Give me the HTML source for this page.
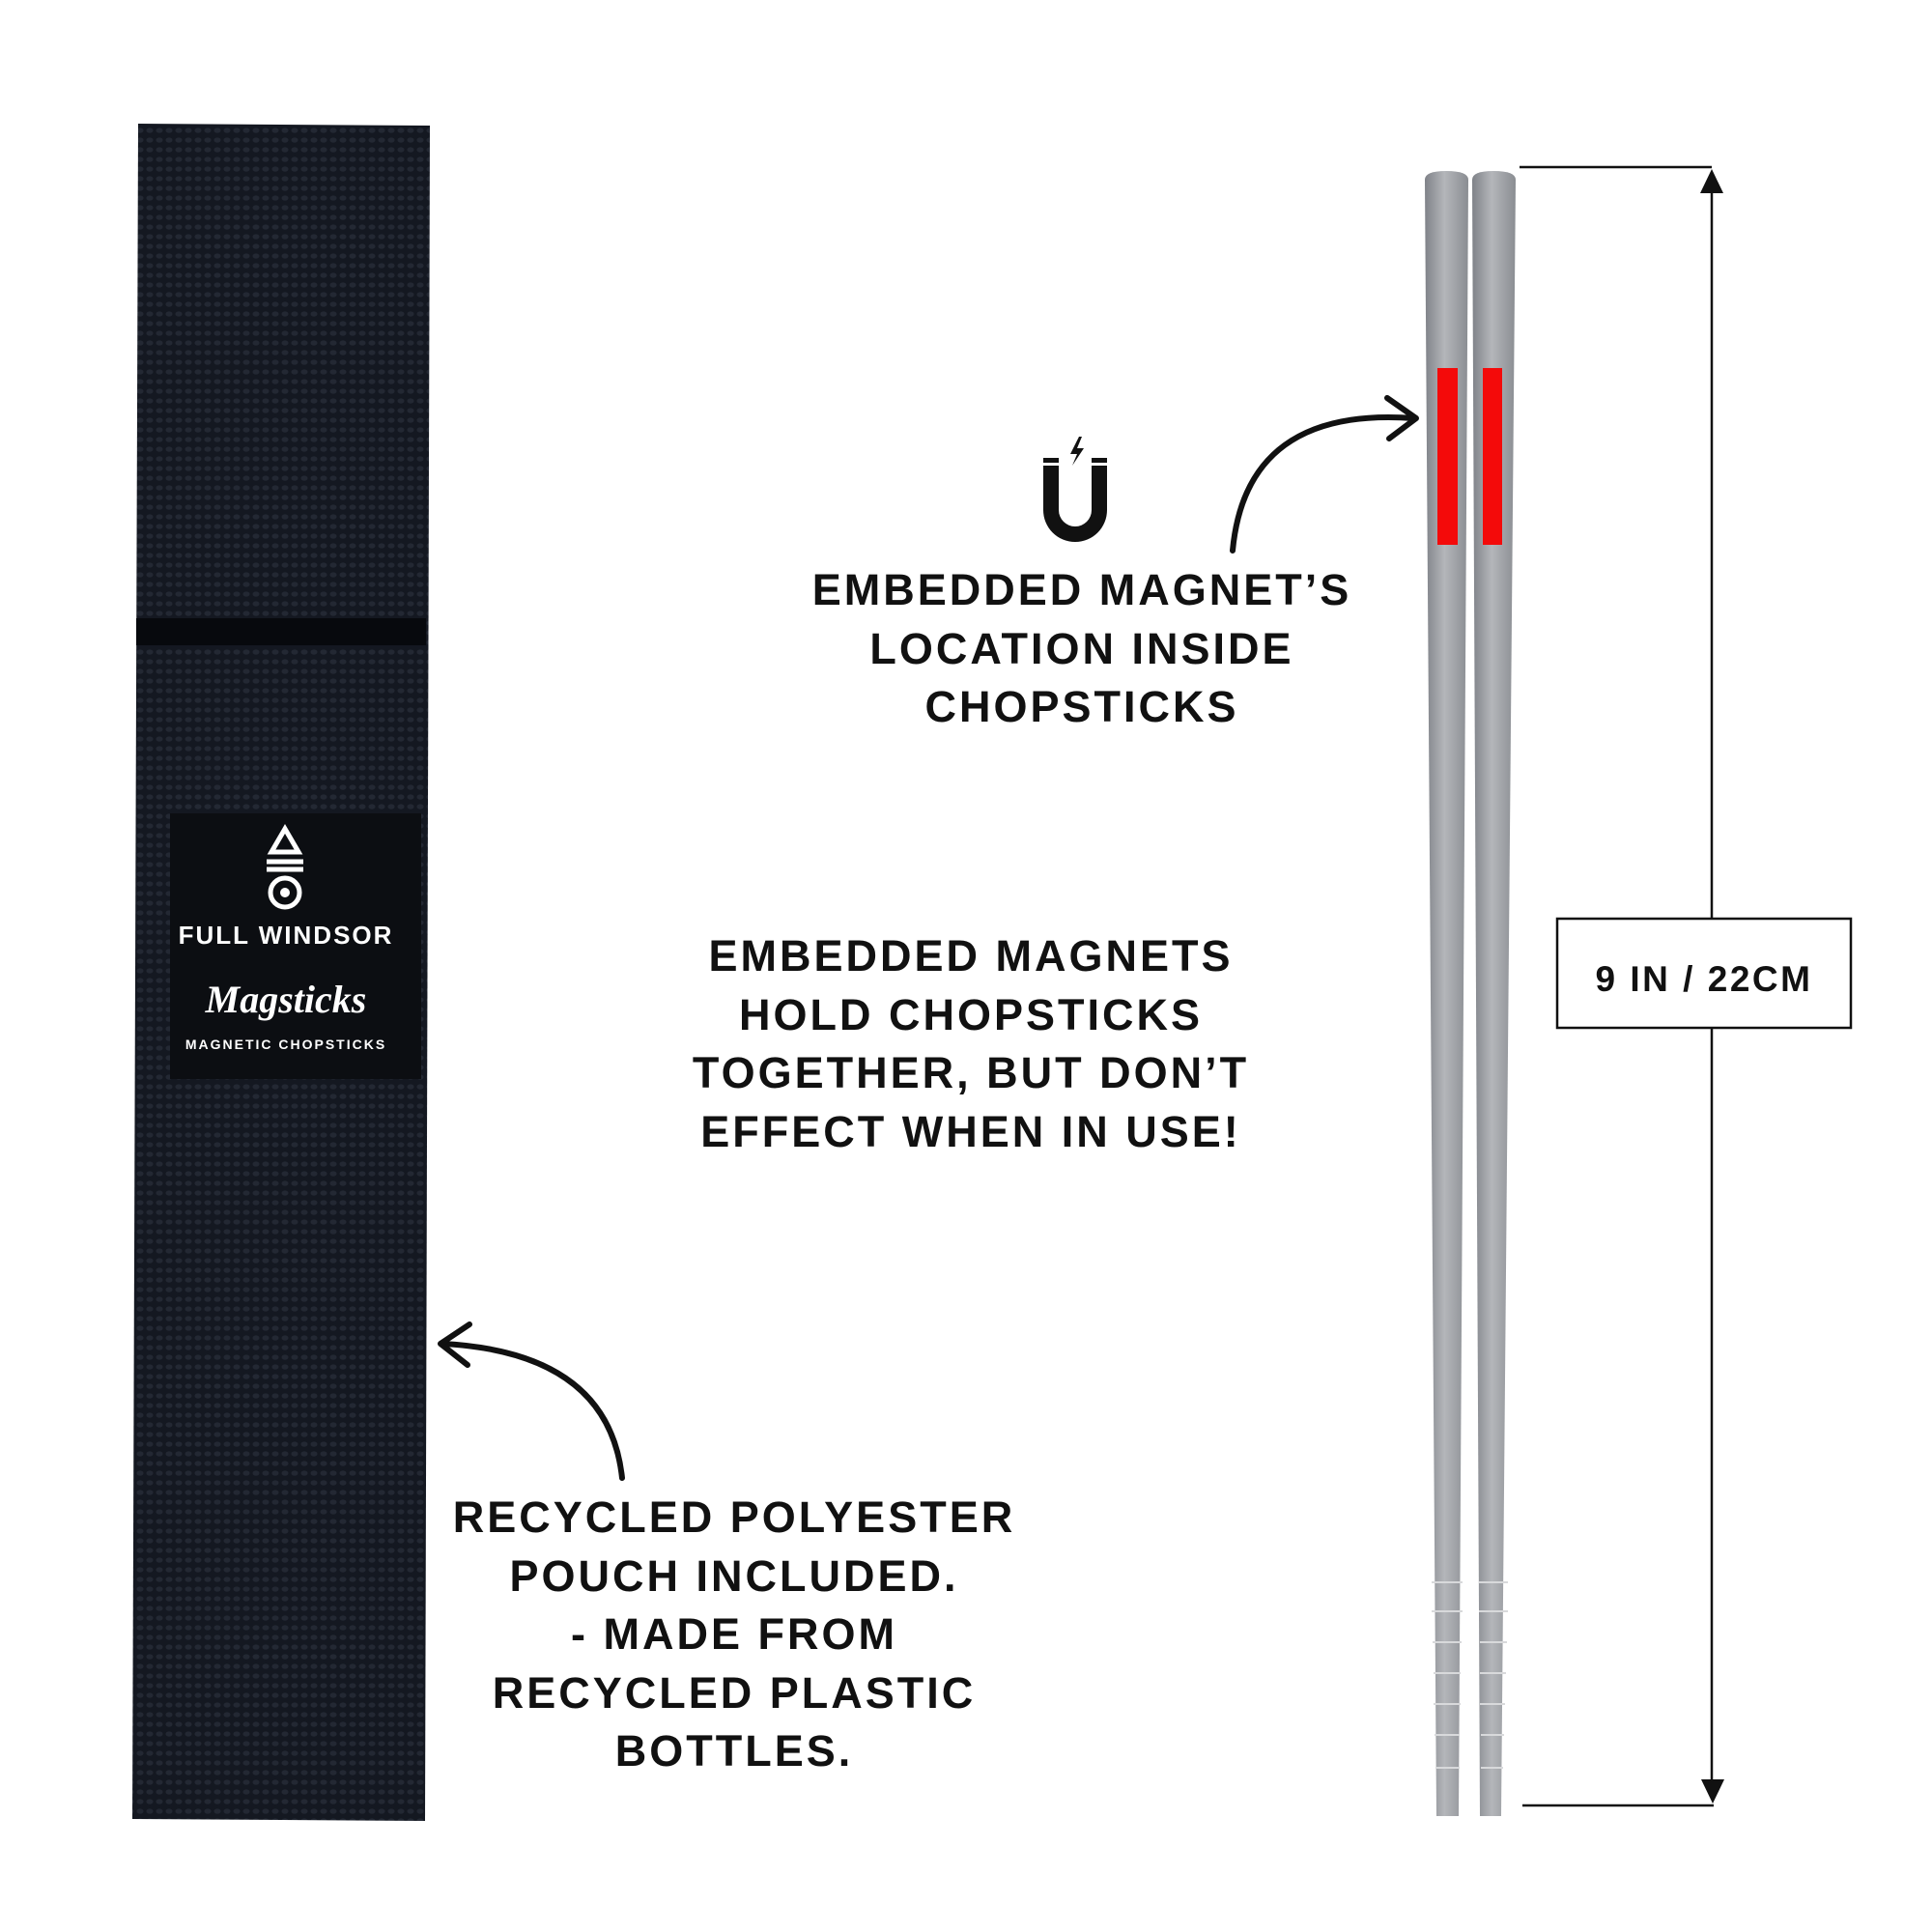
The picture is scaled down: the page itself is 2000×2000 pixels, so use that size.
<!DOCTYPE html>
<html><head><meta charset="utf-8"><style>
body{margin:0;width:2000px;height:2000px;background:#fff;position:relative;overflow:hidden;font-family:"Liberation Sans",sans-serif}
.t{position:absolute;font-weight:bold;color:#111;text-align:center;letter-spacing:3px;font-size:45px;line-height:60.5px}
</style></head><body>
<svg width="2000" height="2000" style="position:absolute;left:0;top:0">
<defs>
<pattern id="weave" width="10" height="10" patternUnits="userSpaceOnUse">
<rect width="10" height="10" fill="#141821"/>
<ellipse cx="5" cy="5" rx="3.5" ry="2.6" fill="#232833"/>
</pattern>
<linearGradient id="st" x1="0" x2="1"><stop offset="0" stop-color="#7f8288"/><stop offset=".45" stop-color="#b4b6ba"/><stop offset="1" stop-color="#8a8d92"/></linearGradient>
</defs>
<path d="M143 128 L445 130 L440 1885 L137 1883 Z" fill="url(#weave)"/>
<rect x="141" y="640" width="300" height="28" fill="#07090d"/>
<rect x="176" y="842" width="260" height="275" fill="#0c0e12"/>
<g fill="none" stroke="#fff" stroke-width="5">
<polygon points="295,858 281,882 309,882"/>
<line x1="276" y1="892" x2="314" y2="892"/><line x1="276" y1="900" x2="314" y2="900"/>
<circle cx="295" cy="924" r="15"/>
</g>
<circle cx="295" cy="924" r="5" fill="#fff"/>
<text x="296" y="977" fill="#fff" font-family="Liberation Sans" font-weight="bold" font-size="26" text-anchor="middle" letter-spacing="2">FULL WINDSOR</text>
<text x="296" y="1048" fill="#fff" font-family="Liberation Serif" font-style="italic" font-weight="bold" font-size="40" text-anchor="middle">Magsticks</text>
<text x="296" y="1086" fill="#fff" font-family="Liberation Sans" font-weight="bold" font-size="14" text-anchor="middle" letter-spacing="2">MAGNETIC CHOPSTICKS</text>
<g transform="translate(-8,0)">
<path d="M1483 186 Q1483 177 1505 177 Q1528 177 1528 186 L1518 1880 L1495 1880 Z" fill="url(#st)"/>
<path d="M1532 186 Q1532 177 1554 177 Q1577 177 1577 186 L1562 1880 L1540 1880 Z" fill="url(#st)"/>
<g stroke="#d8d9db" stroke-width="2">
<line x1="1490" y1="1638" x2="1522" y2="1638"/><line x1="1490" y1="1668" x2="1522" y2="1668"/><line x1="1491" y1="1700" x2="1521" y2="1700"/><line x1="1492" y1="1732" x2="1520" y2="1732"/><line x1="1492" y1="1764" x2="1520" y2="1764"/><line x1="1493" y1="1796" x2="1519" y2="1796"/><line x1="1494" y1="1830" x2="1519" y2="1830"/>
<line x1="1539" y1="1638" x2="1569" y2="1638"/><line x1="1539" y1="1668" x2="1569" y2="1668"/><line x1="1540" y1="1700" x2="1568" y2="1700"/><line x1="1540" y1="1732" x2="1567" y2="1732"/><line x1="1540" y1="1764" x2="1566" y2="1764"/><line x1="1541" y1="1796" x2="1565" y2="1796"/><line x1="1541" y1="1830" x2="1564" y2="1830"/>
</g>
<rect x="1496" y="381" width="21" height="183" fill="#f40a0a"/>
<rect x="1543" y="381" width="20" height="183" fill="#f40a0a"/>
<g stroke="#111" stroke-width="2.5" fill="none">
<line x1="1581" y1="173" x2="1780" y2="173"/>
<line x1="1584" y1="1869" x2="1782" y2="1869"/>
<line x1="1780" y1="185" x2="1780" y2="951"/>
<line x1="1780" y1="1064" x2="1780" y2="1860"/>
<rect x="1620" y="951" width="304" height="113"/>
</g>
<polygon points="1780,175 1768,200 1792,200" fill="#111"/>
<polygon points="1781,1867 1769,1842 1793,1842" fill="#111"/>
<text x="1772" y="1026" font-family="Liberation Sans" font-weight="bold" font-size="37" text-anchor="middle" letter-spacing="2.5" fill="#111">9 IN / 22CM</text>
</g>
<g stroke="#111" stroke-width="6" fill="none" stroke-linecap="round" stroke-linejoin="round">
<path d="M1276 570 Q1290 420 1464 433"/>
<path d="M1436 412 L1466 433 L1438 454"/>
<path d="M644 1530 Q630 1400 458 1391"/>
<path d="M486 1371 L456 1391 L484 1413"/>
</g>
<path d="M1080 482 L1080 528 A33 33 0 0 0 1146 528 L1146 482 L1130 482 L1130 528 A17 17 0 0 1 1096 528 L1096 482 Z" fill="#111"/>
<rect x="1080" y="474" width="16" height="5" fill="#111"/><rect x="1130" y="474" width="16" height="5" fill="#111"/>
<path d="M1117 452 L1108 470 L1115 470 L1110 482 L1122 464 L1115 464 L1120 452Z" fill="#111"/>
</svg>
<div class="t" style="left:800px;width:640px;top:581px">EMBEDDED MAGNET’S<br>LOCATION INSIDE<br>CHOPSTICKS</div>
<div class="t" style="left:680px;width:650px;top:960px">EMBEDDED MAGNETS<br>HOLD CHOPSTICKS<br>TOGETHER, BUT DON’T<br>EFFECT WHEN IN USE!</div>
<div class="t" style="left:440px;width:640px;top:1541px">RECYCLED POLYESTER<br>POUCH INCLUDED.<br>- MADE FROM<br>RECYCLED PLASTIC<br>BOTTLES.</div>
</body></html>
